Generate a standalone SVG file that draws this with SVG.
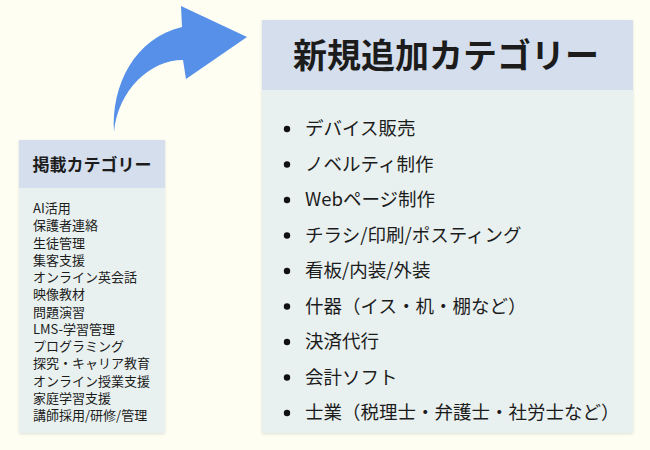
<svg xmlns="http://www.w3.org/2000/svg" width="650" height="450" viewBox="0 0 650 450">
<defs>
<style>
.hdr{fill:#d4deec}
.body{fill:#e9f1f0}
.t{font-family:"Noto Sans CJK JP","Noto Sans",sans-serif;fill:#1c1c1c}
.title{font-weight:bold;text-anchor:middle}
.big{font-size:34px}
.mid{font-size:17px}
.item{font-size:18.5px}
.small{font-size:13px}
.bullet{fill:#111}
</style>
<filter id="sh" x="-10%" y="-10%" width="120%" height="120%">
<feDropShadow dx="0" dy="1" stdDeviation="1.5" flood-color="#000" flood-opacity="0.12"/>
</filter>
</defs>
<rect width="650" height="450" fill="#fffef3"/>
<g id="connectors">
<path d="M114,132 C111,85 135,38 182,27 L181,6 L247,37 L186,79 L183,60 C150,60 118,90 114,132 Z" fill="#5690e9"/>
</g>
<g id="node-left">
<g filter="url(#sh)">
<rect x="19" y="140" width="146" height="293" class="body"/>
<rect x="19" y="140" width="146" height="48" class="hdr"/>
</g>
<text x="92" y="171" class="t title mid">掲載カテゴリー</text>
<g class="t small">
<text x="33" y="213">AI活用</text>
<text x="33" y="230.25">保護者連絡</text>
<text x="33" y="247.5">生徒管理</text>
<text x="33" y="264.75">集客支援</text>
<text x="33" y="282">オンライン英会話</text>
<text x="33" y="299.25">映像教材</text>
<text x="33" y="316.5">問題演習</text>
<text x="33" y="333.75">LMS-学習管理</text>
<text x="33" y="351">プログラミング</text>
<text x="33" y="368.25">探究・キャリア教育</text>
<text x="33" y="385.5">オンライン授業支援</text>
<text x="33" y="402.75">家庭学習支援</text>
<text x="33" y="420">講師採用/研修/管理</text>
</g>
</g>
<g id="node-right">
<g filter="url(#sh)">
<rect x="262" y="20" width="371" height="413" class="body"/>
<rect x="262" y="20" width="371" height="70" class="hdr"/>
</g>
<text x="446" y="68" class="t title big">新規追加カテゴリー</text>
<g class="bullet">
<circle cx="287" cy="129" r="3.2"/>
<circle cx="287" cy="164.5" r="3.2"/>
<circle cx="287" cy="200" r="3.2"/>
<circle cx="287" cy="235.5" r="3.2"/>
<circle cx="287" cy="271" r="3.2"/>
<circle cx="287" cy="306.5" r="3.2"/>
<circle cx="287" cy="342" r="3.2"/>
<circle cx="287" cy="377.5" r="3.2"/>
<circle cx="287" cy="413" r="3.2"/>
</g>
<g class="t item">
<text x="305" y="135">デバイス販売</text>
<text x="305" y="170.5">ノベルティ制作</text>
<text x="305" y="206">Webページ制作</text>
<text x="305" y="241.5">チラシ/印刷/ポスティング</text>
<text x="305" y="277">看板/内装/外装</text>
<text x="305" y="312.5">什器（イス・机・棚など）</text>
<text x="305" y="348">決済代行</text>
<text x="305" y="383.5">会計ソフト</text>
<text x="305" y="419">士業（税理士・弁護士・社労士など）</text>
</g>
</g>
</svg>
